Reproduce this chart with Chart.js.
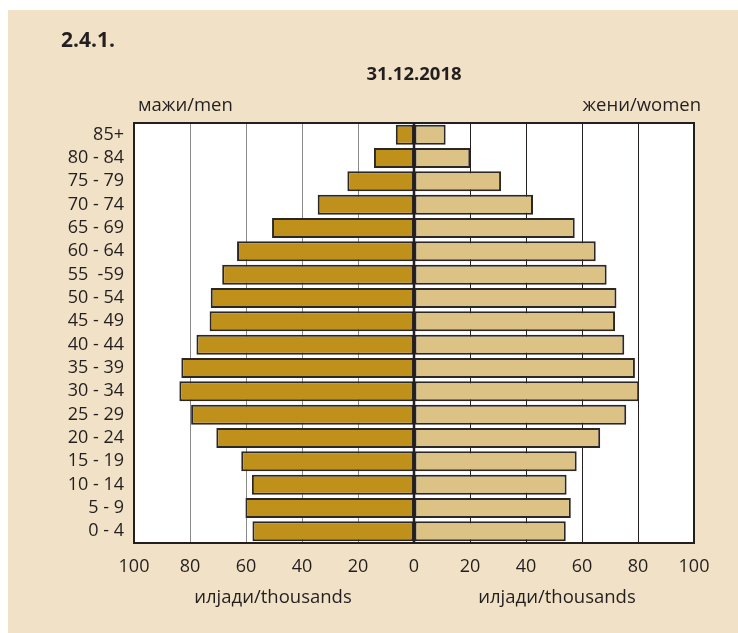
<!DOCTYPE html>
<html>
<head>
<meta charset="utf-8">
<script src="https://cdn.jsdelivr.net/npm/chart.js@4"></script>
<style>
  html, body { margin: 0; padding: 0; background: #fff; }
  #wrap { width: 738px; height: 633px; position: relative; }
</style>
</head>
<body>
<div id="wrap"><canvas id="pyramidChart" width="738" height="633"></canvas></div>
<script>
// Population pyramid 31.12.2018 (thousands)
const ageGroups = ['85+', '80 - 84', '75 - 79', '70 - 74', '65 - 69', '60 - 64', '55  -59', '50 - 54',
  '45 - 49', '40 - 44', '35 - 39', '30 - 34', '25 - 29', '20 - 24', '15 - 19', '10 - 14', '5 - 9', '0 - 4'];
const men = [6.5, 14.3, 23.8, 34.4, 50.7, 63.2, 68.5, 72.6, 73.0, 77.7, 83.1, 83.8, 79.6, 70.6, 61.7, 57.9, 60.2, 57.7];
const women = [11.3, 20.1, 31.1, 42.5, 57.4, 64.9, 68.8, 72.3, 71.8, 75.1, 78.9, 80.4, 75.8, 66.5, 58.1, 54.5, 56.0, 54.2];
const xTicks = [-100, -80, -60, -40, -20, 0, 20, 40, 60, 80, 100];

const FONT = '"Open Sans", sans-serif';
const TEXT = '#231f20';

// panel background, white plot area, frame + titles
const decorations = {
  id: 'decorations',
  beforeDraw(chart) {
    const c = chart.ctx;
    const a = chart.chartArea;
    c.save();
    c.fillStyle = '#f1e2c7';
    c.fillRect(8, 10, chart.width - 8, chart.height - 10);
    c.fillStyle = '#ffffff';
    c.fillRect(a.left, a.top, a.right - a.left, a.bottom - a.top);
    c.restore();
  },
  afterDraw(chart) {
    const c = chart.ctx;
    const a = chart.chartArea;
    c.save();
    c.strokeStyle = '#231f20';
    c.lineWidth = 2;
    c.strokeRect(a.left, a.top, a.right - a.left, a.bottom - a.top);
    c.fillStyle = TEXT;
    c.textBaseline = 'middle';
    c.font = 'bold 21px ' + FONT;
    c.textAlign = 'left';
    c.fillText('2.4.1.', 61, 41);
    c.font = 'bold 18.5px ' + FONT;
    c.textAlign = 'center';
    c.fillText('31.12.2018', 414, 75);
    c.font = '18.5px ' + FONT;
    c.textAlign = 'left';
    c.fillText('мажи/men', 138, 106);
    c.textAlign = 'right';
    c.fillText('жени/women', 701, 106);
    c.textAlign = 'center';
    c.fillText('илјади/thousands', 273, 598);
    c.fillText('илјади/thousands', 557, 598);
    // centre line
    const x0 = chart.scales.x.getPixelForValue(0);
    c.lineWidth = 2.5;
    c.beginPath();
    c.moveTo(x0, a.top);
    c.lineTo(x0, a.bottom);
    c.stroke();
    c.restore();
  }
};

new Chart(document.getElementById('pyramidChart'), {
  type: 'bar',
  data: {
    labels: ageGroups,
    datasets: [
      {
        label: 'мажи/men',
        data: men.map((v) => -v),
        backgroundColor: '#bf911a',
        borderColor: '#2b2727',
        borderWidth: 2,
        borderSkipped: false,
        barPercentage: 0.86,
        categoryPercentage: 1,
      },
      {
        label: 'жени/women',
        data: women,
        backgroundColor: '#dcc285',
        borderColor: '#2b2727',
        borderWidth: 2,
        borderSkipped: false,
        barPercentage: 0.86,
        categoryPercentage: 1,
      },
    ],
  },
  options: {
    indexAxis: 'y',
    responsive: false,
    animation: false,
    devicePixelRatio: 1,
    layout: { padding: { top: 123, right: 44, left: 0, bottom: 0 } },
    plugins: {
      legend: { display: false },
      tooltip: { enabled: false },
    },
    scales: {
      x: {
        min: -100,
        max: 100,
        afterBuildTicks: (s) => { s.ticks = xTicks.map((v) => ({ value: v })); },
        afterFit: (s) => { s.height = 90; },
        border: { display: true, color: '#231f20', width: 2 },
        grid: {
          drawTicks: false,
          color: (ctx) => (ctx.tick && ctx.tick.value < 0 ? '#8a8a8a' : '#231f20'),
          lineWidth: 1,
        },
        ticks: {
          padding: 13,
          autoSkip: false,
          maxRotation: 0,
          color: TEXT,
          font: { family: FONT, size: 18 },
          callback: (v) => Math.abs(v),
        },
      },
      y: {
        stacked: true,
        afterFit: (s) => { s.width = 134; },
        border: { display: true, color: '#231f20', width: 2 },
        grid: { display: false, drawTicks: false },
        ticks: {
          padding: 10,
          autoSkip: false,
          color: TEXT,
          font: { family: FONT, size: 18 },
        },
      },
    },
  },
  plugins: [decorations],
});
</script>
</body>
</html>
